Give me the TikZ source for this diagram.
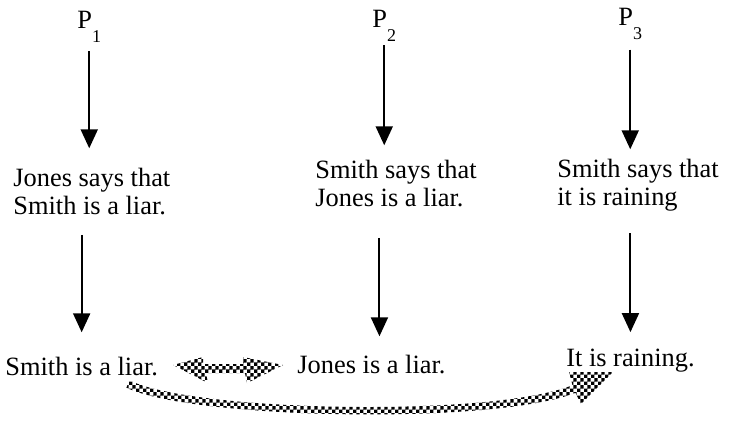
\documentclass[tikz,border=0pt]{standalone}
\usepackage{fontspec}
\setmainfont{Liberation Serif}
\usetikzlibrary{arrows.meta, patterns.meta}

\newcommand{\premise}[1]{P\raisebox{-7pt}{\fontsize{9}{9}\selectfont #1}}

\pgfdeclarepattern{
  name=finechecker,
  type=uncolored,
  bottom left={\pgfpointorigin},
  top right={\pgfqpoint{3.4pt}{3.4pt}},
  tile size={\pgfqpoint{3.4pt}{3.4pt}},
  code={
    \pgfpathrectangle{\pgfpointorigin}{\pgfqpoint{1.75pt}{1.75pt}}
    \pgfpathrectangle{\pgfqpoint{1.7pt}{1.7pt}}{\pgfqpoint{1.75pt}{1.75pt}}
    \pgfusepath{fill}
  }
}

\tikzset{
  txt/.style={inner sep=0pt, font=\fontsize{13.2}{14}\selectfont, align=left},
  flow/.style={-{Triangle[length=9.5pt,width=8.5pt]}, line width=1pt},
  checker/.style={pattern=finechecker, pattern color=black}
}

\begin{document}
\begin{tikzpicture}[x=0.5pt, y=-0.5pt]
  \useasboundingbox (0,0) rectangle (729,420);

  % premises
  \node[txt, anchor=base west] (p1) at (77,28) {\premise{1}};
  \node[txt, anchor=base west] (p2) at (372,27) {\premise{2}};
  \node[txt, anchor=base west] (p3) at (618,25) {\premise{3}};

  % what is said (base = last line)
  \node[txt, anchor=base west] (s1) at (13,214) {Jones says that\\Smith is a liar.};
  \node[txt, anchor=base west] (s2) at (315,206) {Smith says that\\Jones is a liar.};
  \node[txt, anchor=base west] (s3) at (557,205) {Smith says that\\it is raining};

  % conclusions
  \node[txt, anchor=base west] (c1) at (5,375) {Smith is a liar.};
  \node[txt, anchor=base west] (c2) at (297,373) {Jones is a liar.};
  \node[txt, anchor=base east] (c3) at (695,366) {It is raining.};

  \draw[flow, shorten <=4.5pt, shorten >=9.5pt] (p1.south) -- (p1.south |- s1.north);
  \draw[flow, shorten <=2pt, shorten >=7pt] (p2.south) -- (p2.south |- s2.north);
  \draw[flow, shorten <=5pt, shorten >=4.5pt] (p3.south) -- (p3.south |- s3.north);

  \draw[flow, shorten <=10pt, shorten >=12pt] (c1.north |- s1.south) -- (c1.north);
  \draw[flow, shorten <=15.5pt, shorten >=9pt] ([xshift=4pt]c2.north |- s2.south) -- ([xshift=4pt]c2.north);
  \draw[flow, shorten <=11pt, shorten >=8pt] (c3.north |- s3.south) -- (c3.north);

  % checkered double arrow
  \fill[checker] (173,365) -- (203,357) -- (203,364) -- (243,364) -- (243,357)
    -- (283,365) -- (247,383) -- (245,373) -- (206,373) -- (208,383) -- cycle;

  % checkered curved arrow
  \fill[checker] (129.6,380.4) .. controls (191.6,411.4) and (488.7,418.2) .. (572.5,385.2)
    -- (569,372) -- (613,372) -- (581,404) -- (575.5,392.8)
    .. controls (491.3,425.8) and (188.4,418.6) .. (126.4,387.6) -- cycle;
\end{tikzpicture}
\end{document}
